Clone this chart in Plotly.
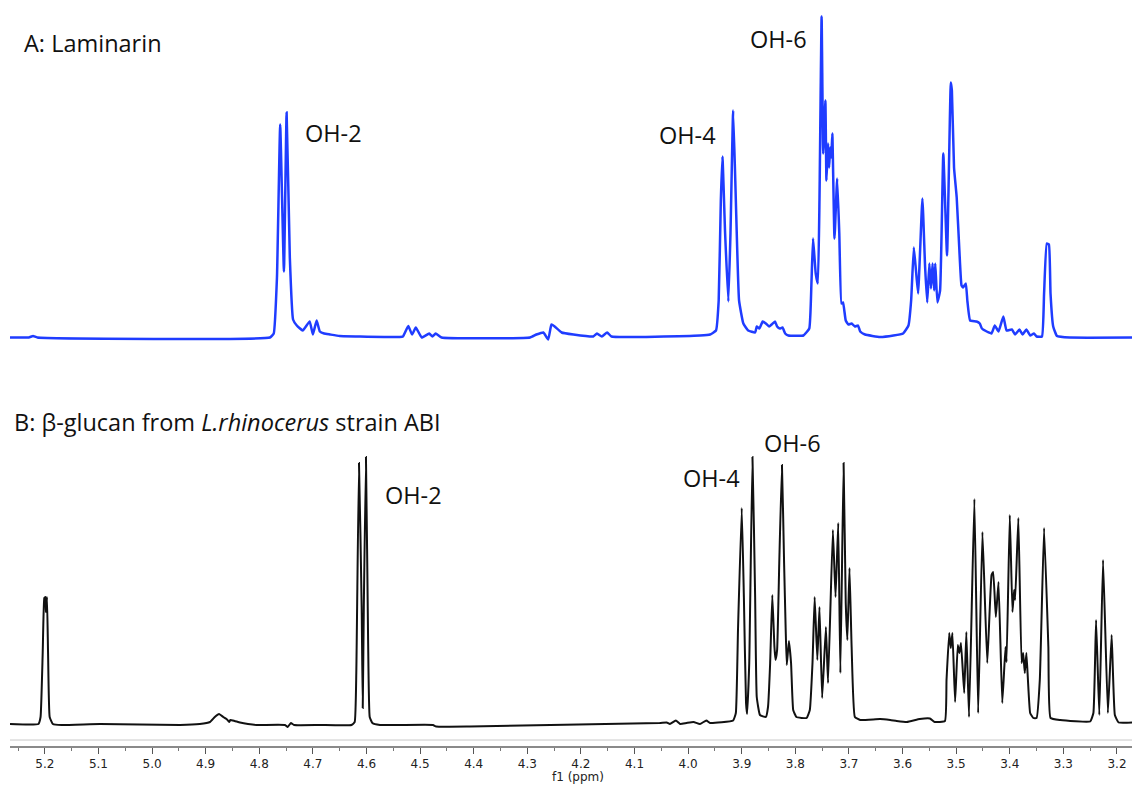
import plotly.graph_objects as go

# ---------------- data ----------------
# Spectrum A: Laminarin (chemical shift in ppm, intensity in arbitrary units)
A_ppm = [5.265, 5.230, 5.222, 5.214, 4.780, 4.773, 4.767, 4.761, 4.754, 4.749, 4.743, 4.737,
         4.730, 4.719, 4.706, 4.700, 4.693, 4.687, 4.679, 4.668, 4.650, 4.612, 4.538, 4.532,
         4.522, 4.515, 4.508, 4.497, 4.483, 4.477, 4.471, 4.460, 4.295, 4.283, 4.270, 4.261,
         4.255, 4.249, 4.236, 4.214, 4.177, 4.170, 4.161, 4.151, 4.143, 3.978, 3.959, 3.948,
         3.943, 3.939, 3.936, 3.931, 3.925, 3.921, 3.916, 3.911, 3.905, 3.897, 3.888, 3.875,
         3.872, 3.867, 3.861, 3.855, 3.849, 3.844, 3.838, 3.834, 3.829, 3.824, 3.819, 3.813,
         3.785, 3.774, 3.770, 3.767, 3.762, 3.758, 3.755, 3.751, 3.748, 3.744, 3.742, 3.739,
         3.737, 3.735, 3.733, 3.731, 3.727, 3.722, 3.718, 3.714, 3.711, 3.706, 3.701, 3.695,
         3.689, 3.683, 3.679, 3.670, 3.642, 3.617, 3.599, 3.589, 3.584, 3.579, 3.575, 3.571,
         3.563, 3.558, 3.554, 3.550, 3.547, 3.544, 3.541, 3.539, 3.535, 3.530, 3.524, 3.517,
         3.510, 3.508, 3.504, 3.499, 3.494, 3.490, 3.487, 3.482, 3.479, 3.474, 3.462, 3.456,
         3.452, 3.443, 3.434, 3.428, 3.421, 3.412, 3.406, 3.396, 3.390, 3.382, 3.376, 3.369,
         3.362, 3.355, 3.350, 3.340, 3.336, 3.331, 3.327, 3.324, 3.319, 3.312, 3.288, 3.172]
A_int = [0, 0, 1.5, 0, 0, 4, 60, 213, 66, 225, 80, 18,
         12, 7, 16, 3, 17, 6, 4, 3, 1.5, 1, 0.5, 1,
         11.5, 3, 10, 0, 4, 1, 4, 0, 0, 3, 5, -2,
         13, 11, 5, 3, 1, 4, 1, 5, 1, 2, 3, 7,
         37, 137, 181, 104, 36, 104, 227, 137, 37, 14, 7, 5,
         11, 9, 16, 14, 11, 13, 16, 11, 9, 10, 4, 2,
         2, 9, 54, 99, 64, 54, 137, 321, 184, 237, 157, 194,
         170, 190, 180, 204, 99, 159, 104, 34, 35, 17, 13, 14,
         11, 12, 6, 3, 0.5, 2, 4, 12, 37, 90, 67, 44,
         139, 71, 35, 74, 49, 74, 47, 74, 35, 47, 184, 82,
         255, 247, 170, 140, 87, 52, 50, 54, 36, 17, 16, 14,
         9, 6, 4, 12, 6, 21, 7, 8, 3, 8, 3, 8,
         2, 4, 1, 1, 44, 94, 93, 44, 11, 1.5, 0, 0]

# Spectrum B: beta-glucan from L. rhinocerus strain ABI
B_ppm = [5.265, 5.212, 5.208, 5.204, 5.201, 5.199, 5.198, 5.196, 5.194, 5.191, 5.185, 5.169,
         5.097, 4.948, 4.911, 4.892, 4.883, 4.875, 4.867, 4.861, 4.856, 4.854, 4.846, 4.836,
         4.821, 4.805, 4.752, 4.747, 4.741, 4.735, 4.687, 4.628, 4.622, 4.619, 4.614, 4.609,
         4.607, 4.605, 4.601, 4.597, 4.594, 4.589, 4.575, 4.476, 4.470, 4.407, 4.053, 4.040,
         4.034, 4.023, 4.015, 4.003, 3.990, 3.978, 3.966, 3.959, 3.916, 3.911, 3.907, 3.900,
         3.896, 3.892, 3.890, 3.886, 3.880, 3.875, 3.872, 3.866, 3.855, 3.851, 3.847, 3.843,
         3.839, 3.837, 3.834, 3.830, 3.825, 3.821, 3.818, 3.816, 3.812, 3.808, 3.804, 3.798,
         3.779, 3.773, 3.768, 3.764, 3.759, 3.755, 3.750, 3.743, 3.739, 3.730, 3.725, 3.720,
         3.716, 3.710, 3.706, 3.703, 3.699, 3.695, 3.689, 3.679, 3.642, 3.623, 3.611, 3.592,
         3.568, 3.549, 3.540, 3.521, 3.518, 3.513, 3.510, 3.507, 3.502, 3.497, 3.494, 3.491,
         3.485, 3.481, 3.476, 3.466, 3.459, 3.451, 3.442, 3.434, 3.431, 3.426, 3.421, 3.414,
         3.408, 3.406, 3.400, 3.395, 3.392, 3.390, 3.384, 3.378, 3.375, 3.372, 3.369, 3.362,
         3.356, 3.350, 3.344, 3.336, 3.328, 3.324, 3.306, 3.250, 3.244, 3.239, 3.233, 3.226,
         3.217, 3.210, 3.204, 3.197, 3.172]
B_int = [0, 0, 7, 71, 126, 127, 112, 127, 71, 7, 0, -1,
         0, -1, 0, 2, 7, 10, 7, 5, 2, 4, 3, 1.5,
         0, -1, -1, -3, 1, -1, -1, -1, 2, 51, 261, 117,
         16, 117, 267, 84, 7, 1, -1, -1, -2.5, -2.5, 1, 1.5,
         0, 3.5, 0, 1, 2, 0, 3.5, 1, 3.5, 11, 94, 216,
         127, 21, 10, 61, 267, 127, 27, 9, 7, 17, 61, 129,
         77, 64, 74, 161, 259, 161, 94, 59, 83, 61, 14, 7,
         6, 14, 61, 127, 64, 117, 26, 97, 41, 194, 127, 201,
         51, 261, 121, 84, 156, 77, 7, 4, 5, 4, 3, 2,
         5, 5.5, 2, 3, 44, 91, 76, 91, 22, 79, 71, 81,
         31, 92, 7, 225, 11, 192, 61, 149, 152, 107, 142, 21,
         77, 62, 209, 112, 134, 124, 206, 61, 71, 51, 71, 11,
         6, 6, 44, 196, 77, 6, 4, 2.5, 11, 104, 9, 164,
         11, 89, 9, 1.5, 1.5]

TICK_VALUES = [5.2, 5.1, 5.0, 4.9, 4.8, 4.7, 4.6, 4.5, 4.4, 4.3, 4.2, 4.1, 4.0,
               3.9, 3.8, 3.7, 3.6, 3.5, 3.4, 3.3, 3.2]
TICK_LABELS = ["5.2", "5.1", "5.0", "4.9", "4.8", "4.7", "4.6", "4.5", "4.4", "4.3", "4.2",
               "4.1", "4.0", "3.9", "3.8", "3.7", "3.6", "3.5", "3.4", "3.3", "3.2"]

# peak labels: (text, ppm, intensity)
A_LABELS = [("OH-2", 4.661, 205), ("OH-4", 4.002, 203), ("OH-6", 3.831, 299)]
B_LABELS = [("OH-2", 4.513, 229), ("OH-4", 3.957, 246), ("OH-6", 3.806, 281)]

TITLE_A = "A: Laminarin"
TITLE_B = "B: β-glucan from <i>L.rhinocerus</i> strain ABI"
X_TITLE = "f1 (ppm)"

# ---------------- figure ----------------
fig = go.Figure()
fig.add_trace(go.Scatter(x=B_ppm, y=B_int, mode="lines", yaxis="y",
                         line=dict(color="#111111", width=2, shape="spline", smoothing=0.35),
                         hoverinfo="skip"))
fig.add_trace(go.Scatter(x=A_ppm, y=A_int, mode="lines", yaxis="y2",
                         line=dict(color="#1f3cff", width=2.5, shape="spline", smoothing=0.35),
                         hoverinfo="skip"))

LABEL_FONT = dict(family="'Open Sans', sans-serif", size=23.5, color="#111111")
TITLE_FONT = dict(family="'Open Sans', sans-serif", size=23.5, color="#111111")
annotations = []
for txt, px, py in A_LABELS:
    annotations.append(dict(text=txt, x=px, y=py, xref="x", yref="y2", showarrow=False,
                            xanchor="center", yanchor="middle", font=LABEL_FONT))
for txt, px, py in B_LABELS:
    annotations.append(dict(text=txt, x=px, y=py, xref="x", yref="y", showarrow=False,
                            xanchor="center", yanchor="middle", font=LABEL_FONT))
annotations.append(dict(text=TITLE_A, x=0.0107, y=0.942, xref="paper", yref="paper",
                        showarrow=False, xanchor="left", yanchor="middle", font=TITLE_FONT))
annotations.append(dict(text=TITLE_B, x=0.0018, y=0.434, xref="paper", yref="paper",
                        showarrow=False, xanchor="left", yanchor="middle", font=TITLE_FONT))
annotations.append(dict(text=X_TITLE, x=0.506, y=-0.0415, xref="paper", yref="paper",
                        showarrow=False, xanchor="center", yanchor="middle",
                        font=dict(family="DejaVu Sans, Verdana, sans-serif", size=12, color="#222222")))

fig.update_layout(
    width=1132, height=788,
    margin=dict(l=10, r=0, t=0, b=42),
    paper_bgcolor="white", plot_bgcolor="white",
    showlegend=False,
    annotations=annotations,
    shapes=[dict(type="line", xref="paper", yref="paper", x0=0, x1=1, y0=0.008, y1=0.008,
                 line=dict(color="#c8c8c8", width=1))],
    xaxis=dict(
        range=[5.265, 3.172], tickmode="array", tickvals=TICK_VALUES, ticktext=TICK_LABELS,
        showline=True, linecolor="#8a8a8a", linewidth=2, ticks="outside", ticklen=6,
        tickwidth=1, tickcolor="#555555", showgrid=False, zeroline=False,
        tickfont=dict(family="DejaVu Sans, Verdana, sans-serif", size=12, color="#222222"),
        minor=dict(tickmode="linear", tick0=3.25, dtick=0.1, ticks="outside", ticklen=3,
                   tickwidth=1, tickcolor="#777777", showgrid=False),
    ),
    yaxis=dict(range=[-22, 724], visible=False, domain=[0, 1]),
    yaxis2=dict(range=[-408.5, 337.5], visible=False, overlaying="y"),
)

fig.write_html("out.html")
